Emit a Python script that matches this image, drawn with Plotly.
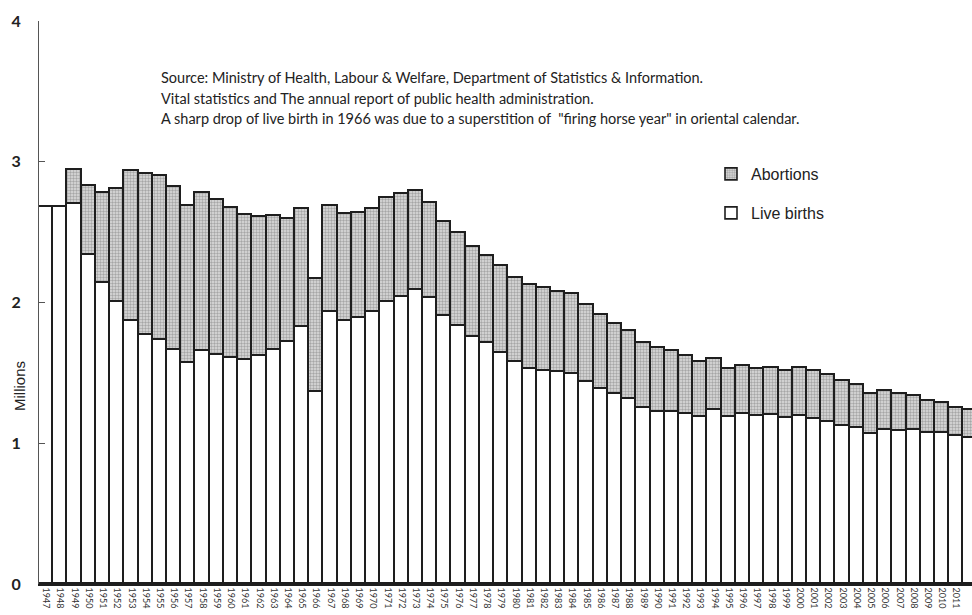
import plotly.graph_objects as go

years = list(range(1947, 2013))

# Live births (millions)
live_births = [
    2.679, 2.682, 2.697, 2.338, 2.138, 2.005, 1.868, 1.770, 1.731, 1.665,
    1.567, 1.653, 1.626, 1.606, 1.589, 1.619, 1.660, 1.717, 1.824, 1.361,
    1.936, 1.872, 1.890, 1.934, 2.001, 2.039, 2.092, 2.030, 1.901, 1.833,
    1.755, 1.709, 1.643, 1.577, 1.529, 1.515, 1.509, 1.490, 1.432, 1.383,
    1.347, 1.314, 1.247, 1.222, 1.223, 1.209, 1.188, 1.238, 1.187, 1.207,
    1.192, 1.203, 1.178, 1.191, 1.171, 1.154, 1.124, 1.111, 1.063, 1.093,
    1.090, 1.091, 1.070, 1.071, 1.051, 1.037,
]

# Abortions (millions)
abortions = [
    None, None, 0.246, 0.489, 0.638, 0.798, 1.068, 1.143, 1.170, 1.159,
    1.122, 1.128, 1.099, 1.063, 1.035, 0.985, 0.955, 0.879, 0.843, 0.808,
    0.747, 0.757, 0.744, 0.732, 0.740, 0.733, 0.701, 0.680, 0.672, 0.664,
    0.641, 0.618, 0.614, 0.598, 0.597, 0.590, 0.568, 0.569, 0.550, 0.528,
    0.498, 0.486, 0.467, 0.457, 0.436, 0.413, 0.387, 0.364, 0.343, 0.339,
    0.338, 0.333, 0.337, 0.341, 0.342, 0.329, 0.320, 0.302, 0.289, 0.276,
    0.257, 0.242, 0.227, 0.213, 0.202, 0.197,
]

y_ticks = [0, 1, 2, 3, 4]

note_lines = [
    "Source: Ministry of Health, Labour &amp; Welfare, Department of Statistics &amp; Information.",
    "Vital statistics and The annual report of public health administration.",
    'A sharp drop of live birth in 1966 was due to a superstition of  "firing horse year" in oriental calendar.',
]

fig = go.Figure()
fig.add_trace(go.Bar(
    x=years, y=live_births, name="Live births",
    marker=dict(color="white", line=dict(color="#1e1e1e", width=1.6)),
    legend="legend2",
))
fig.add_trace(go.Bar(
    x=years, y=abortions, name="Abortions",
    marker=dict(
        color="#d0d0d0",
        line=dict(color="#1e1e1e", width=1.6),
        pattern=dict(shape=".", fgcolor="#6e6e6e", bgcolor="#dedede", size=3, solidity=0.5),
    ),
    legend="legend",
))

W, H = 972, 615
ml, mr, mt, mb = 39, 0, 21, 31
pw = W - ml - mr
ph = H - mt - mb

def px_x(x):
    # page pixel -> paper coordinate
    return (x - ml) / pw

def px_y(y):
    return (H - mb - y) / ph

legend_font = dict(family="Liberation Sans, Arial", size=16, color="#222")

fig.update_layout(
    width=W, height=H,
    margin=dict(l=ml, r=mr, t=mt, b=mb, autoexpand=False),
    paper_bgcolor="white", plot_bgcolor="white",
    barmode="stack", bargap=0,
    showlegend=True,
    legend=dict(x=px_x(711), y=px_y(174), xanchor="left", yanchor="middle",
                font=legend_font, bgcolor="rgba(0,0,0,0)", borderwidth=0),
    legend2=dict(x=px_x(711), y=px_y(213), xanchor="left", yanchor="middle",
                 font=legend_font, bgcolor="rgba(0,0,0,0)", borderwidth=0),
    xaxis=dict(
        range=[1946.5, 2012.1],
        tickmode="array", tickvals=years, ticktext=[str(y) for y in years],
        tickangle=90,
        tickfont=dict(family="Lato, Noto Sans", size=9, color="#333"),
        showgrid=False, zeroline=False,
        showline=True, linecolor="#1e1e1e", linewidth=1.5,
        ticks="", fixedrange=True,
    ),
    yaxis=dict(
        range=[0, 4],
        tickmode="array", tickvals=y_ticks, ticktext=[str(v) for v in y_ticks],
        tickfont=dict(family="Lato, Noto Sans", size=16, color="#222", weight="bold"),
        ticks="inside", ticklen=6, tickcolor="#555", tickwidth=1,
        ticklabelstandoff=14,
        showgrid=False, zeroline=False,
        showline=True, linecolor="#555", linewidth=1,
        fixedrange=True,
    ),
)

for line, yp in zip(note_lines, [77, 98, 119]):
    fig.add_annotation(
        text=line, xref="paper", yref="paper",
        x=px_x(159), y=px_y(yp), xanchor="left", yanchor="middle",
        showarrow=False,
        font=dict(family="Lato, Open Sans", size=14.5, color="#222"),
    )

fig.add_annotation(
    text="Millions", xref="paper", yref="paper",
    x=px_x(20), y=px_y(386), xanchor="center", yanchor="middle",
    textangle=-90, showarrow=False,
    font=dict(family="Liberation Sans, Arial", size=15, color="#222"),
)

fig.write_html(
    "out.html",
    config={"displayModeBar": False},
    post_script="document.body.style.margin='0';document.body.style.overflow='hidden';",
)
